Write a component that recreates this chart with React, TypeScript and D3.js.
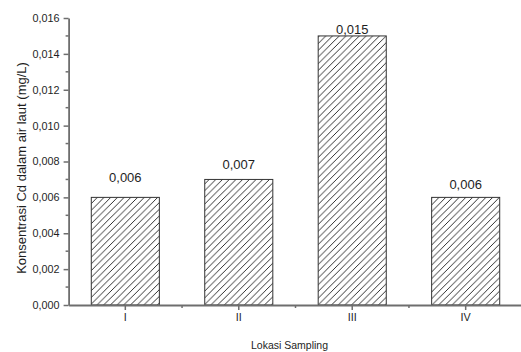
import React, { useRef, useEffect } from "react";
import * as d3 from "d3";

const categories = ["I", "II", "III", "IV"];
const values = [0.006, 0.007, 0.015, 0.006];
const yTicks = [0, 0.002, 0.004, 0.006, 0.008, 0.01, 0.012, 0.014, 0.016];
const yMinorTicks = [0.001, 0.003, 0.005, 0.007, 0.009, 0.011, 0.013, 0.015];
const xTitle = "Lokasi Sampling";
const yTitle = "Konsentrasi Cd dalam air laut (mg/L)";

const App = () => {
  const ref = useRef<SVGSVGElement>(null);
  const width = 521;
  const height = 352;

  useEffect(() => {
    const svg = d3.select(ref.current);
    svg.selectAll("*").remove();

    const font = "'Liberation Sans', Arial, sans-serif";
    const axisColor = "#6e6e6e";
    const textColor = "#1e1e1e";
    const locale = d3.formatLocale({ decimal: ",", thousands: ".", grouping: [3], currency: ["", ""] });
    const fmt = locale.format(".3f");

    const x = d3.scaleBand().domain(categories).range([68.6, 522.4]).paddingInner(0.4).paddingOuter(0.2);
    const y = d3.scaleLinear().domain([0, 0.016]).range([305, 18]);

    // hatch
    const defs = svg.append("defs");
    const s = 6.7;
    const pat = defs
      .append("pattern")
      .attr("id", "hatch")
      .attr("patternUnits", "userSpaceOnUse")
      .attr("width", s)
      .attr("height", s);
    pat
      .append("path")
      .attr("d", `M0,${s} L${s},0 M-1,1 L1,-1 M${s - 1},${s + 1} L${s + 1},${s - 1}`)
      .attr("stroke", "#1a1a1a")
      .attr("stroke-width", 0.9);

    // bars
    svg
      .selectAll(".bar")
      .data(values)
      .enter()
      .append("rect")
      .attr("x", (d, i) => x(categories[i])!)
      .attr("y", (d) => y(d))
      .attr("width", x.bandwidth())
      .attr("height", (d) => y(0) - y(d))
      .attr("fill", "url(#hatch)")
      .attr("stroke", "#333")
      .attr("stroke-width", 1);

    // value labels (gap above bar top)
    const labelGap = [15, 10, 2, 8];
    svg
      .selectAll(".label")
      .data(values)
      .enter()
      .append("text")
      .text((d) => fmt(d))
      .attr("x", (d, i) => x(categories[i])! + x.bandwidth() / 2)
      .attr("y", (d, i) => y(d) - labelGap[i])
      .attr("text-anchor", "middle")
      .attr("fill", textColor)
      .style("font-family", font)
      .style("font-size", "13px");

    // y axis
    const gy = svg
      .append("g")
      .attr("transform", `translate(${68.6},0)`)
      .call(d3.axisLeft(y).tickValues(yTicks).tickFormat((d) => fmt(d as number)).tickSize(5).tickSizeOuter(0).tickPadding(4));
    gy.selectAll("line").attr("stroke", axisColor).attr("stroke-width", 1.5);
    gy.select(".domain").attr("stroke", axisColor).attr("stroke-width", 1.8);
    gy.selectAll("text").attr("fill", textColor).style("font-family", font).style("font-size", "10.8px");
    gy.selectAll(".minor")
      .data(yMinorTicks)
      .enter()
      .append("line")
      .attr("x1", -3)
      .attr("x2", 0)
      .attr("y1", (d) => y(d))
      .attr("y2", (d) => y(d))
      .attr("stroke", axisColor)
      .attr("stroke-width", 1.5);

    // x axis
    const gx = svg
      .append("g")
      .attr("transform", `translate(0,${y(0)})`)
      .call(d3.axisBottom(x).tickSize(5).tickSizeOuter(0).tickPadding(3));
    gx.selectAll("line").attr("stroke", axisColor).attr("stroke-width", 1.5);
    gx.select(".domain").attr("stroke", axisColor).attr("stroke-width", 1.8);
    gx.selectAll("text").attr("fill", textColor).style("font-family", font).style("font-size", "10.8px");
    gx.selectAll(".minor")
      .data(categories.slice(1))
      .enter()
      .append("line")
      .attr("x1", (d) => x(d)! - (x.step() - x.bandwidth()) / 2)
      .attr("x2", (d) => x(d)! - (x.step() - x.bandwidth()) / 2)
      .attr("y1", 0)
      .attr("y2", 3)
      .attr("stroke", axisColor)
      .attr("stroke-width", 1.5);

    // titles
    svg
      .append("text")
      .text(xTitle)
      .attr("x", 289.5)
      .attr("y", 349)
      .attr("text-anchor", "middle")
      .attr("fill", textColor)
      .style("font-family", font)
      .style("font-size", "10.5px");

    svg
      .append("text")
      .text(yTitle)
      .attr("transform", `translate(26,168) rotate(-90)`)
      .attr("text-anchor", "middle")
      .attr("fill", textColor)
      .style("font-family", font)
      .style("font-size", "13px");
  }, []);

  return (
    <svg
      ref={ref}
      width={width}
      height={height}
      style={{ position: "absolute", left: 0, top: 0, background: "#fff" }}
    ></svg>
  );
};

export default App;
